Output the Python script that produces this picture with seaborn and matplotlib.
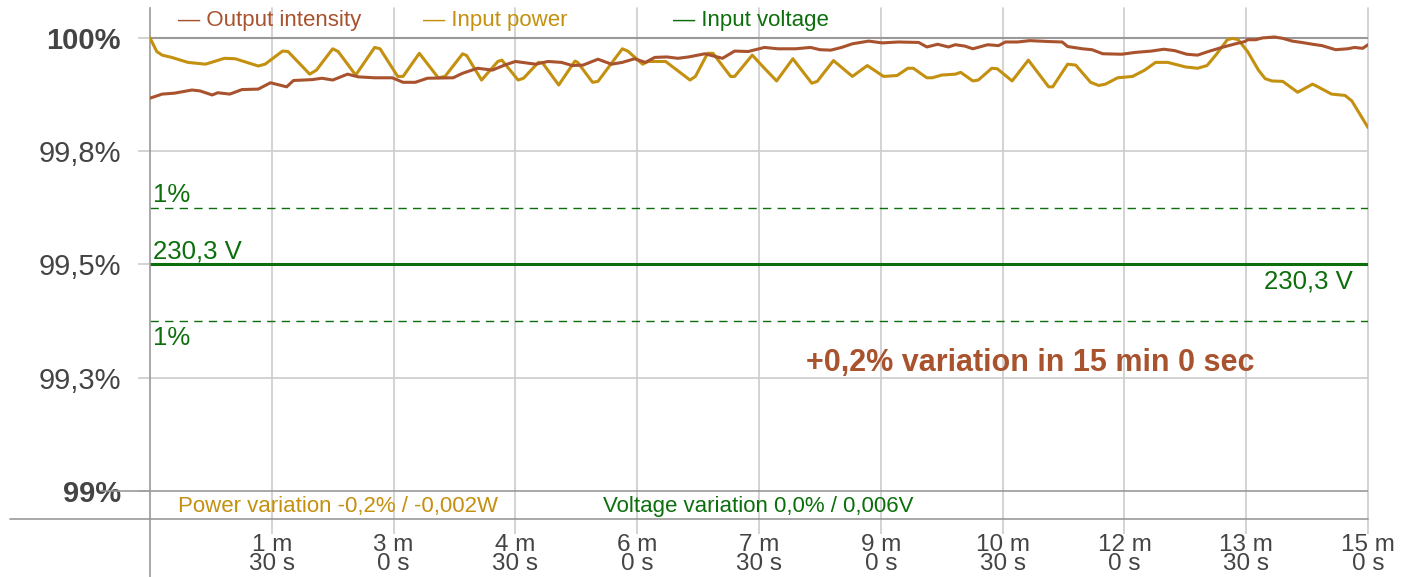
import numpy as np
import pandas as pd
import seaborn as sns
import matplotlib.pyplot as plt

# time in seconds, values in % of maximum
out_t = [0, 9, 18, 31, 37, 46, 50, 59, 68, 80, 89, 101, 106, 120, 127, 135, 146, 154, 166, 179,
         187, 196, 205, 224, 231, 242, 253, 262, 270, 285, 294, 304, 312, 320, 331, 341, 349, 358,
         366, 373, 382, 390, 398, 410, 423, 432, 442, 454, 464, 477, 488, 495, 503, 511, 519, 531,
         541, 553, 568, 574, 582, 590, 595, 602, 608, 619, 627, 632, 641, 650, 664, 674, 678, 689,
         696, 704, 718, 728, 740, 749, 757, 766, 774, 782, 792, 802, 809, 811, 817, 822, 831, 837,
         844, 851, 859, 866, 876, 885, 890, 896, 900]
out_v = [99.867, 99.876, 99.878, 99.885, 99.883, 99.874, 99.879, 99.876, 99.886, 99.887, 99.901,
         99.892, 99.906, 99.908, 99.911, 99.907, 99.920, 99.914, 99.912, 99.912, 99.902, 99.902,
         99.911, 99.912, 99.922, 99.933, 99.929, 99.940, 99.948, 99.942, 99.948, 99.946, 99.939,
         99.940, 99.953, 99.942, 99.946, 99.954, 99.946, 99.957, 99.958, 99.955, 99.958, 99.965,
         99.955, 99.971, 99.970, 99.979, 99.976, 99.976, 99.979, 99.974, 99.973, 99.979, 99.987,
         99.993, 99.989, 99.991, 99.990, 99.980, 99.986, 99.980, 99.985, 99.982, 99.976, 99.985,
         99.983, 99.991, 99.991, 99.994, 99.992, 99.991, 99.981, 99.976, 99.974, 99.965, 99.964,
         99.968, 99.971, 99.975, 99.972, 99.964, 99.962, 99.970, 99.979, 99.987, 99.992, 99.996,
         99.996, 100.0, 100.002, 99.999, 99.993, 99.990, 99.986, 99.983, 99.974, 99.976, 99.979,
         99.977, 99.985]

pow_t = [0, 5, 9, 16, 28, 41, 55, 63, 80, 85, 98, 102, 118, 123, 135, 139, 152, 166, 170, 183,
         187, 199, 213, 218, 231, 234, 245, 257, 260, 272, 276, 287, 290, 302, 314, 316, 327, 331,
         349, 353, 364, 368, 381, 399, 403, 412, 416, 429, 432, 445, 454, 463, 475, 489, 493, 505,
         519, 530, 542, 552, 560, 564, 574, 578, 585, 595, 599, 608, 612, 622, 626, 637, 649, 664,
         667, 678, 684, 695, 701, 706, 715, 726, 735, 743, 752, 765, 774, 781, 788, 796, 800, 804,
         811, 819, 824, 829, 837, 848, 859, 863, 873, 883, 888, 900]
pow_v = [100.0, 99.970, 99.962, 99.957, 99.946, 99.942, 99.955, 99.954, 99.938, 99.942, 99.971,
         99.970, 99.920, 99.929, 99.976, 99.970, 99.918, 99.979, 99.976, 99.915, 99.915, 99.966,
         99.912, 99.915, 99.965, 99.961, 99.907, 99.948, 99.951, 99.907, 99.911, 99.946, 99.945,
         99.896, 99.949, 99.946, 99.902, 99.904, 99.976, 99.971, 99.942, 99.948, 99.948, 99.907,
         99.915, 99.966, 99.966, 99.915, 99.915, 99.962, 99.933, 99.905, 99.954, 99.900, 99.904,
         99.950, 99.915, 99.939, 99.915, 99.917, 99.933, 99.933, 99.912, 99.912, 99.918, 99.920,
         99.924, 99.905, 99.907, 99.933, 99.932, 99.905, 99.951, 99.892, 99.892, 99.942, 99.940,
         99.902, 99.895, 99.898, 99.912, 99.915, 99.929, 99.946, 99.946, 99.936, 99.933, 99.939,
         99.964, 99.996, 99.999, 99.996, 99.970, 99.929, 99.910, 99.905, 99.904, 99.880, 99.898,
         99.892, 99.876, 99.873, 99.861, 99.802]

voltage_level = 99.5
band_hi = 99.625
band_lo = 99.375

y_ticks = [99, 99.25, 99.5, 99.75, 100]
y_labels = ["99%", "99,3%", "99,5%", "99,8%", "100%"]
x_ticks = [90, 180, 270, 360, 450, 540, 630, 720, 810, 900]
x_labels = ["1 m\n30 s", "3 m\n0 s", "4 m\n30 s", "6 m\n0 s", "7 m\n30 s",
            "9 m\n0 s", "10 m\n30 s", "12 m\n0 s", "13 m\n30 s", "15 m\n0 s"]

BROWN = "#a8532e"
GOLD = "#c4900f"
GREEN = "#0c6f0c"
TXT = "#444444"
GRID = "#cccccc"
DARK = "#999999"

sns.set_style("white")
plt.rcParams["font.family"] = ["Liberation Sans", "DejaVu Sans"]

fig = plt.figure(figsize=(14.19, 5.77), dpi=100)
ax = fig.add_axes([0.1057, 0.1005, 0.8584, 0.8856])

df_out = pd.DataFrame({"t": out_t, "v": out_v})
df_pow = pd.DataFrame({"t": pow_t, "v": pow_v})

# grid
for y in [99.25, 99.75]:
    ax.axhline(y, color=GRID, lw=1.2, zorder=0)
for x in x_ticks:
    ax.axvline(x, color=GRID, lw=1.2, zorder=0, clip_on=False)
ax.axhline(100, color=DARK, lw=1.5, zorder=1)
ax.axhline(99, color=DARK, lw=1.2, zorder=1)

sns.lineplot(data=df_pow, x="t", y="v", color=GOLD, lw=2.2, ax=ax, zorder=3,
             solid_joinstyle="round")
sns.lineplot(data=df_out, x="t", y="v", color=BROWN, lw=2.2, ax=ax, zorder=4,
             solid_joinstyle="round")

ax.axhline(voltage_level, color=GREEN, lw=2.2, zorder=2)
ax.axhline(band_hi, color=GREEN, lw=1.0, ls=(0, (6, 4.5)), zorder=2)
ax.axhline(band_lo, color=GREEN, lw=1.0, ls=(0, (6, 4.5)), zorder=2)

ax.set_xlim(0, 900)
ax.set_ylim(98.938, 100.066)
ax.set_xlabel("")
ax.set_ylabel("")

for s in ["top", "right", "bottom"]:
    ax.spines[s].set_visible(False)
ax.spines["left"].set_color(DARK)
ax.spines["left"].set_linewidth(1.2)

# extra axis lines below and left of plot
ax.plot([0, 0], [0, -0.115], transform=ax.transAxes, color=DARK, lw=1.2, clip_on=False)
ax.plot([-0.115, 1], [0, 0], transform=ax.transAxes, color=DARK, lw=1.2, clip_on=False)
ax.plot([-0.04, 0], [99, 99], transform=ax.get_yaxis_transform(), color=DARK, lw=1.2, clip_on=False)

ax.set_yticks(y_ticks)
ax.set_yticklabels(y_labels, fontsize=21, color=TXT)
for lab in ax.get_yticklabels():
    if lab.get_text() in ("100%", "99%"):
        lab.set_fontweight("bold")
ax.tick_params(axis="y", length=9, width=1.2, color=GRID, pad=12, left=True)

ax.set_xticks(x_ticks)
ax.set_xticklabels(x_labels, fontsize=17.5, color=TXT, linespacing=0.78)
ax.tick_params(axis="x", length=11, width=1.2, color=GRID, pad=0, bottom=True)

# legend as text
ax.text((178 - 150) / 1218, (519 - 20) / 511, "— Output intensity", color=BROWN,
        fontsize=16, va="center", transform=ax.transAxes, clip_on=False)
ax.text((423 - 150) / 1218, (519 - 20) / 511, "— Input power", color=GOLD,
        fontsize=16, va="center", transform=ax.transAxes, clip_on=False)
ax.text((673 - 150) / 1218, (519 - 20) / 511, "— Input voltage", color=GREEN,
        fontsize=16, va="center", transform=ax.transAxes, clip_on=False)

ytr = ax.get_yaxis_transform()
ax.annotate("230,3 V", xy=(0, voltage_level), xycoords=ytr, xytext=(3, 6),
            textcoords="offset pixels", color=GREEN, fontsize=18.5, va="baseline")
ax.annotate("230,3 V", xy=(1, voltage_level), xycoords=ytr, xytext=(-15, -5),
            textcoords="offset pixels", color=GREEN, fontsize=18.5, va="top", ha="right")
ax.annotate("1%", xy=(0, band_hi), xycoords=ytr, xytext=(3, 6),
            textcoords="offset pixels", color=GREEN, fontsize=18.5, va="baseline")
ax.annotate("1%", xy=(0, band_lo), xycoords=ytr, xytext=(3, -5),
            textcoords="offset pixels", color=GREEN, fontsize=18.5, va="top")

ax.text((806 - 150) / 1218, (519 - 363) / 511, "+0,2% variation in 15 min 0 sec",
        color=BROWN, fontsize=22, fontweight="bold", va="center", transform=ax.transAxes)

ax.text((178 - 150) / 1218, (519 - 506) / 511, "Power variation -0,2% / -0,002W",
        color=GOLD, fontsize=16, va="center", transform=ax.transAxes)
ax.text((603 - 150) / 1218, (519 - 506) / 511, "Voltage variation 0,0% / 0,006V",
        color=GREEN, fontsize=16, va="center", transform=ax.transAxes)

fig.savefig("out.png", dpi=100)
